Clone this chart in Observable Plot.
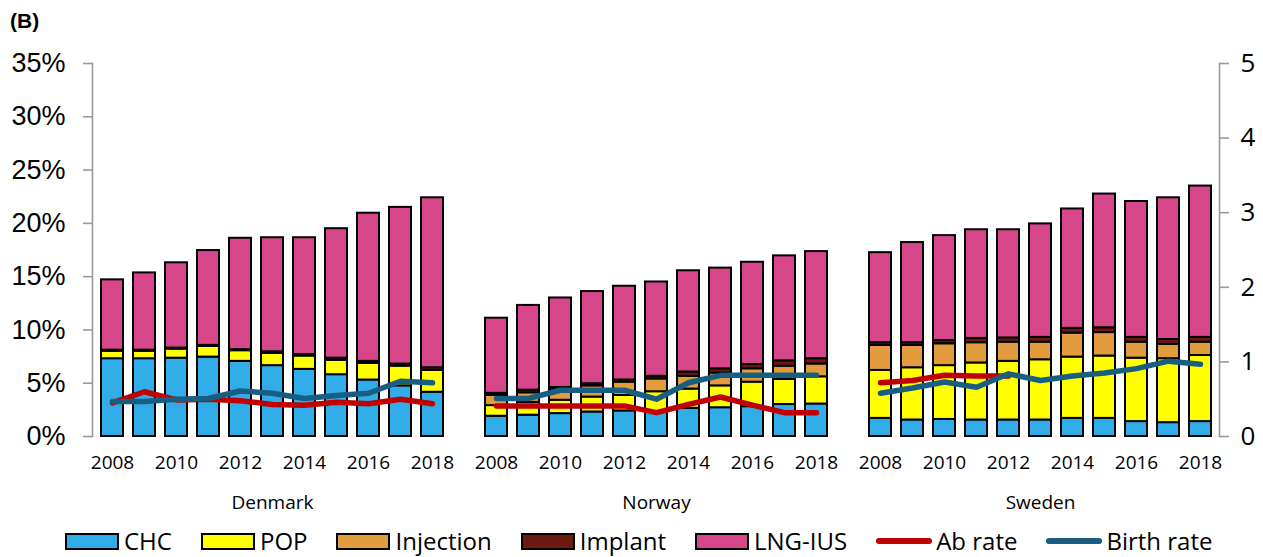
<!DOCTYPE html>
<html>
<head>
<meta charset="utf-8">
<script src="https://cdn.jsdelivr.net/npm/d3@7"></script>
<script src="https://cdn.jsdelivr.net/npm/@observablehq/plot@0.6"></script>
<style>
  html, body { margin: 0; padding: 0; background: #fff; }
  #wrap { width: 1263px; height: 557px; position: relative; overflow: hidden; }
  #title { height: 40px; font: bold 21px "Liberation Sans", Arial, sans-serif; padding: 9px 0 0 10px; box-sizing: border-box; line-height: 24px; }
  #legend { display: flex; gap: 29px; padding-left: 65px; padding-top: 3px; height: 35px; box-sizing: border-box; font: 24px "Open Sans", sans-serif; line-height: 30px; align-items: center; }
  .item { display: flex; align-items: center; }
  .sw { width: 50px; height: 13px; border: 2px solid #000; margin-right: 5px; }
  .ln { width: 56px; height: 6px; border-radius: 3px; margin-right: 4px; }
</style>
</head>
<body>
<div id="wrap">
  <div id="title">(B)</div>
  <div id="chart"></div>
  <div id="legend"></div>
</div>
<script>
// ---------- data ----------
const countries = ["Denmark", "Norway", "Sweden"];
const years = [2008, 2009, 2010, 2011, 2012, 2013, 2014, 2015, 2016, 2017, 2018];
const methods = ["CHC", "POP", "Injection", "Implant", "LNG-IUS"];
const methodColors = ["#31ACE9", "#FFFF00", "#E29C3E", "#6E1A12", "#D6478A"];
const rateNames = ["Ab rate", "Birth rate"];
const rateColors = ["#C00000", "#185E80"];
const pctTicks = [0, 5, 10, 15, 20, 25, 30, 35];
const rateTicks = [0, 1, 2, 3, 4, 5];

// use of contraception, % of women
const denmarkCHC = [7.3, 7.3, 7.35, 7.45, 7.05, 6.65, 6.3, 5.8, 5.3, 4.75, 4.15];
const denmarkPOP = [0.7, 0.7, 0.85, 1.0, 1.0, 1.15, 1.25, 1.35, 1.55, 1.85, 2.05];
const denmarkInjection = [0, 0, 0, 0, 0, 0, 0, 0, 0, 0, 0];
const denmarkImplant = [0.1, 0.1, 0.1, 0.1, 0.1, 0.15, 0.15, 0.2, 0.2, 0.2, 0.25];
const denmarkLNG = [6.6, 7.25, 8.0, 8.9, 10.45, 10.7, 10.95, 12.15, 13.9, 14.7, 15.95];
const denmarkAb = [0.45, 0.6, 0.49, 0.5, 0.48, 0.43, 0.42, 0.46, 0.44, 0.5, 0.44];
const denmarkBirth = [0.47, 0.47, 0.5, 0.51, 0.61, 0.58, 0.51, 0.55, 0.58, 0.74, 0.72];

const norwayCHC = [1.9, 2.0, 2.15, 2.3, 2.4, 2.3, 2.65, 2.7, 2.8, 3.0, 3.05];
const norwayPOP = [1.0, 1.2, 1.25, 1.4, 1.45, 1.9, 1.8, 2.05, 2.3, 2.35, 2.55];
const norwayInjection = [0.95, 0.9, 1.0, 1.05, 1.25, 1.2, 1.2, 1.2, 1.25, 1.25, 1.2];
const norwayImplant = [0.2, 0.25, 0.2, 0.2, 0.2, 0.25, 0.4, 0.4, 0.4, 0.5, 0.5];
const norwayLNG = [7.05, 7.95, 8.4, 8.65, 8.8, 8.85, 9.5, 9.45, 9.6, 9.85, 10.05];
const norwayAb = [0.41, 0.41, 0.41, 0.41, 0.41, 0.32, 0.43, 0.53, 0.42, 0.32, 0.32];
const norwayBirth = [0.51, 0.51, 0.62, 0.62, 0.62, 0.5, 0.72, 0.82, 0.82, 0.82, 0.82];

const swedenCHC = [1.7, 1.55, 1.6, 1.55, 1.55, 1.55, 1.7, 1.7, 1.4, 1.3, 1.4];
const swedenPOP = [4.5, 4.9, 5.05, 5.35, 5.5, 5.65, 5.75, 5.85, 5.95, 6.0, 6.2];
const swedenInjection = [2.35, 2.1, 2.05, 1.9, 1.8, 1.65, 2.25, 2.2, 1.5, 1.35, 1.25];
const swedenImplant = [0.25, 0.25, 0.3, 0.4, 0.4, 0.45, 0.45, 0.45, 0.45, 0.45, 0.45];
const swedenLNG = [8.45, 9.4, 9.85, 10.2, 10.15, 10.65, 11.2, 12.55, 12.75, 13.3, 14.2];
const swedenAb = [0.72, 0.75, 0.82, 0.81, 0.81, null, null, null, null, null, null];
const swedenBirth = [0.58, 0.65, 0.73, 0.66, 0.84, 0.75, 0.81, 0.85, 0.91, 1.01, 0.97];

const methodSeries = {
  Denmark: [denmarkCHC, denmarkPOP, denmarkInjection, denmarkImplant, denmarkLNG],
  Norway: [norwayCHC, norwayPOP, norwayInjection, norwayImplant, norwayLNG],
  Sweden: [swedenCHC, swedenPOP, swedenInjection, swedenImplant, swedenLNG]
};
const rateSeries = {
  Denmark: [denmarkAb, denmarkBirth],
  Norway: [norwayAb, norwayBirth],
  Sweden: [swedenAb, swedenBirth]
};

// ---------- tables ----------
const key = (c, y) => c + "|" + y;
const xDomain = [];
countries.forEach((c, i) => {
  if (i > 0) xDomain.push("gap" + i);
  years.forEach(y => xDomain.push(key(c, y)));
});
const evenKeys = xDomain.filter(k => k.includes("|") && (+k.split("|")[1]) % 2 === 0);

const bars = [];
countries.forEach(c => years.forEach((y, yi) => methods.forEach((m, mi) => {
  bars.push({key: key(c, y), country: c, year: y, method: m, value: methodSeries[c][mi][yi]});
})));
const rates = [];
countries.forEach(c => years.forEach((y, yi) => {
  rates.push({key: key(c, y), country: c, year: y, ab: rateSeries[c][0][yi], birth: rateSeries[c][1][yi]});
}));

// right axis: 0..5 rate maps onto 0..35 %
const factor = pctTicks[pctTicks.length - 1] / rateTicks[rateTicks.length - 1];
const toY = v => (v == null ? NaN : v * factor);

const chart = Plot.plot({
  width: 1263,
  height: 482,
  marginTop: 23,
  marginBottom: 86,
  marginLeft: 92,
  marginRight: 44,
  style: {fontFamily: "'Open Sans', sans-serif", fontSize: "19px", background: "#fff", color: "#000", overflow: "visible"},
  x: {domain: xDomain, paddingInner: 0.32, paddingOuter: 0.16, label: null},
  y: {domain: [0, 35], label: null},
  color: {domain: methods, range: methodColors},
  marks: [
    Plot.barY(bars, {x: "key", y: "value", fill: "method", order: methods, stroke: "#000", strokeWidth: 2}),
    Plot.lineY(rates, {x: "key", y: d => toY(d.ab), z: "country", stroke: rateColors[0], strokeWidth: 5.5, strokeLinejoin: "round", strokeLinecap: "round"}),
    Plot.lineY(rates, {x: "key", y: d => toY(d.birth), z: "country", stroke: rateColors[1], strokeWidth: 5.5, strokeLinejoin: "round", strokeLinecap: "round"}),
    Plot.frame({anchor: "left", stroke: "#9a9a9a", strokeWidth: 1.6}),
    Plot.frame({anchor: "right", stroke: "#9a9a9a", strokeWidth: 1.6}),
    Plot.axisY({anchor: "left", ticks: pctTicks, tickFormat: d => d + "%", tickSize: 9, tickPadding: 18,
      fontSize: 27, fontFamily: "'Liberation Sans', Arial, sans-serif", stroke: "#9a9a9a", strokeWidth: 1.6, label: null}),
    Plot.axisY({anchor: "right", ticks: rateTicks.map(v => v * factor), tickFormat: d => String(Math.round(d / factor)),
      tickSize: 9, tickPadding: 12, fontSize: 26, stroke: "#9a9a9a", strokeWidth: 1.6, label: null}),
    Plot.axisX({ticks: evenKeys, tickFormat: k => k.split("|")[1], tickSize: 0, tickPadding: 19, fontSize: 19, label: null}),
    Plot.text(countries, {x: c => key(c, years[5]), text: d => d, frameAnchor: "bottom", dy: 66, fontSize: 19, lineAnchor: "middle"})
  ]
});
document.getElementById("chart").appendChild(chart);

// ---------- legend ----------
const legend = d3.select("#legend");
methods.forEach((m, i) => {
  const it = legend.append("div").attr("class", "item");
  it.append("div").attr("class", "sw").style("background", methodColors[i]);
  it.append("span").text(m);
});
rateNames.forEach((r, i) => {
  const it = legend.append("div").attr("class", "item");
  it.append("div").attr("class", "ln").style("background", rateColors[i]);
  it.append("span").text(r);
});
</script>
</body>
</html>
